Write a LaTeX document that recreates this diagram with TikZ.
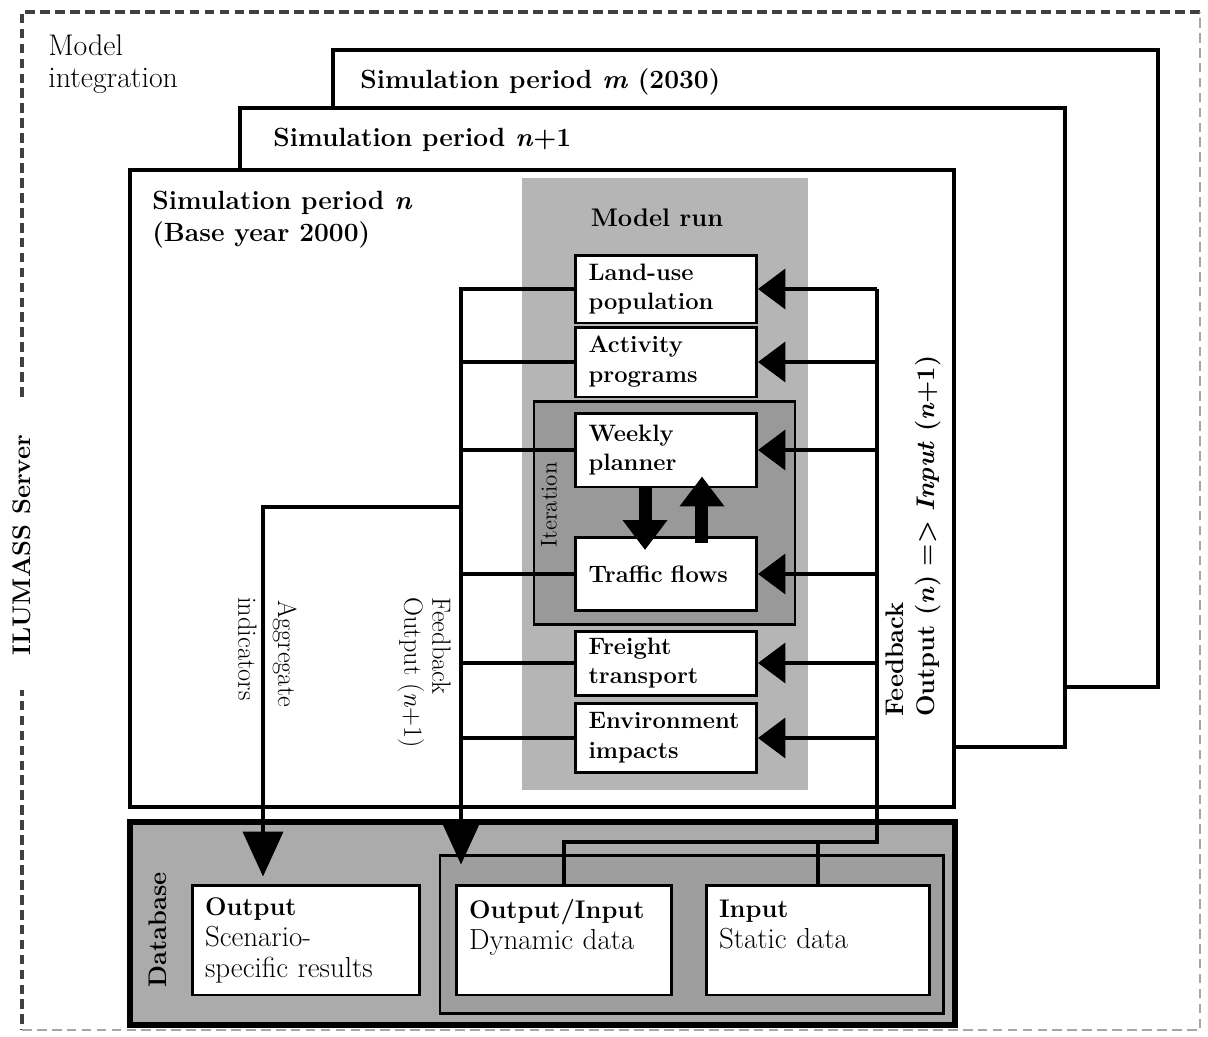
\documentclass[tikz,border=0pt]{standalone}
\usetikzlibrary{arrows.meta}

\definecolor{runfill}{gray}{0.71}
\definecolor{iterfill}{gray}{0.60}
\definecolor{dbfill}{gray}{0.67}
\definecolor{dbinner}{gray}{0.62}

% bold first line of a database box
\newcommand{\dbhead}[1]{{\fontsize{14.5}{17.6}\selectfont\bfseries #1}}

\begin{document}
\begin{tikzpicture}[x=0.02cm, y=-0.02cm,
  frame/.style={draw, line width=2.2pt, fill=white},
  unit/.style={draw, line width=1.7pt, fill=white, text width=3.1cm, inner xsep=0.26cm, align=left, font=\fontsize{13.5}{17}\selectfont\bfseries},
  store/.style={draw, line width=1.7pt, fill=white, inner xsep=0.25cm, minimum height=2.2cm, align=left, font=\fontsize{16.5}{17.6}\selectfont},
  wire/.style={line width=2.3pt},
  feed/.style={wire, -{Triangle[length=0.55cm, width=0.8cm]}},
  drop/.style={wire, -{Triangle[length=0.9cm, width=0.8cm]}},
  fat/.style={line width=0.26cm, -{Triangle[length=0.6cm, width=0.86cm]}},
  title/.style={inner sep=0, font=\fontsize{15}{18}\selectfont\bfseries},
  side/.style={inner sep=0, align=left, font=\fontsize{15}{16}\selectfont},
  border/.style={line width=2.2pt, dash pattern=on 5.5pt off 3pt},
]
\useasboundingbox (0,0) rectangle (1208,1036);

% server frame
\draw[border, black!75] (1200,12) -- (22,12) -- (22,1030);
\draw[border, black!35, line width=1.5pt] (22,1030) -- (1200,1030) -- (1200,12);
\node[rotate=90, fill=white, inner xsep=0.7cm, font=\fontsize{14.5}{16}\selectfont\bfseries] (server) at (22,545) {ILUMASS Server};
\node[anchor=north west, inner sep=0, align=left, font=\fontsize{17}{18.5}\selectfont] (integ) at (48,34) {Model\\integration};

% simulation periods, the last one at the back
\draw[frame] (333,50) rectangle (1158,687);
\node[title, anchor=base west] (perm) at (360,88) {Simulation period \textit{m} (2030)};
\draw[frame] (240,108) rectangle (1065,747);
\node[title, anchor=base west] (pern1) at (273,146) {Simulation period \textit{n}+1};
\draw[frame] (130,170) rectangle (954,807);
\node[title, anchor=north west, align=left] (pern) at (152,191) {Simulation period \textit{n}\\(Base year 2000)};

% model run
\fill[runfill] (522,178) rectangle (808,790);
\node[font=\fontsize{14.5}{17}\selectfont\bfseries] (run) at (657,218) {Model run};
\draw[line width=1.7pt, fill=iterfill] (534,401) rectangle (795,624);
\node[rotate=90, font=\fontsize{13}{15}\selectfont] (iter) at (549,505) {Iteration};

\node[unit, minimum height=1.36cm] (landuse) at (666,289) {Land-use\\population};
\node[unit, minimum height=1.40cm] (activity) at (666,362) {Activity\\programs};
\node[unit, minimum height=1.48cm] (weekly) at (666,450) {Weekly\\planner};
\node[unit, minimum height=1.46cm] (traffic) at (666,574) {Traffic flows};
\node[unit, minimum height=1.28cm] (freight) at (666,663) {Freight\\transport};
\node[unit, minimum height=1.38cm] (environ) at (666,738) {Environment\\impacts};

% database
\draw[line width=3.5pt, fill=dbfill] (130,822) rectangle (955,1025);
\draw[line width=1.7pt, fill=dbinner] (440,855) rectangle (943,1013);
\node[rotate=90, font=\fontsize{14.5}{17}\selectfont\bfseries] (db) at (158,930) {Database};
\node[store, minimum width=4.54cm, text width=4.04cm] (outres) at (306,940) {\dbhead{Output}\\Scenario-\\specific results};
\node[store, minimum width=4.30cm, text width=3.80cm] (dyn) at (564,940) {\dbhead{Output/Input}\\Dynamic data\\~};
\node[store, minimum width=4.46cm, text width=3.96cm] (stat) at (818,940) {\dbhead{Input}\\Static data\\~};

% output buses
\coordinate (busL) at (463,289);
\coordinate (busR) at (877,289);
\coordinate (aggtap) at (463,507);
\coordinate (split) at (877,842);

\draw[drop, shorten >=0.38cm] (landuse.west) -| ([xshift=0.12cm]dyn.north west);
\draw[wire] (activity.west) -- (activity.west -| busL);
\draw[wire] (weekly.west) -- (weekly.west -| busL);
\draw[wire] (traffic.west) -- (traffic.west -| busL);
\draw[wire] (freight.west) -- (freight.west -| busL);
\draw[wire] (environ.west) -- (environ.west -| busL);
\draw[drop, shorten >=0.14cm] (aggtap) -| ([xshift=-0.86cm]outres.north);

% input feedback from the right
\draw[wire] (busR) -- (split) -| (dyn.north);
\draw[wire] (split -| stat.north) -- (stat.north);
\draw[feed] (landuse.east -| busR) -- (landuse.east);
\draw[feed] (activity.east -| busR) -- (activity.east);
\draw[feed] (weekly.east -| busR) -- (weekly.east);
\draw[feed] (traffic.east -| busR) -- (traffic.east);
\draw[feed] (freight.east -| busR) -- (freight.east);
\draw[feed] (environ.east -| busR) -- (environ.east);

% iteration loop
\draw[fat, shorten >=-0.28cm] ([xshift=-0.42cm]weekly.south) -- ([xshift=-0.42cm]traffic.north);
\draw[fat, shorten <=-0.14cm, shorten >=-0.24cm] ([xshift=0.72cm]traffic.north) -- ([xshift=0.72cm]weekly.south);

% labels along the wires
\node[side, rotate=-90, anchor=north west] (fbleft) at (451,597) {Feedback\\Output (\textit{n}+1)};
\node[side, rotate=-90, anchor=north west] (aggr) at (297,600) {Aggregate};
\node[side, rotate=-90, anchor=north west] (indic) at (257,597) {indicators};
\node[side, rotate=90, anchor=north west, font=\fontsize{14.5}{18}\selectfont\bfseries] (fbright) at (885,717) {Feedback\\Output (\textit{n}) => \textit{Input} (\textit{n}+1)};
\end{tikzpicture}
\end{document}
